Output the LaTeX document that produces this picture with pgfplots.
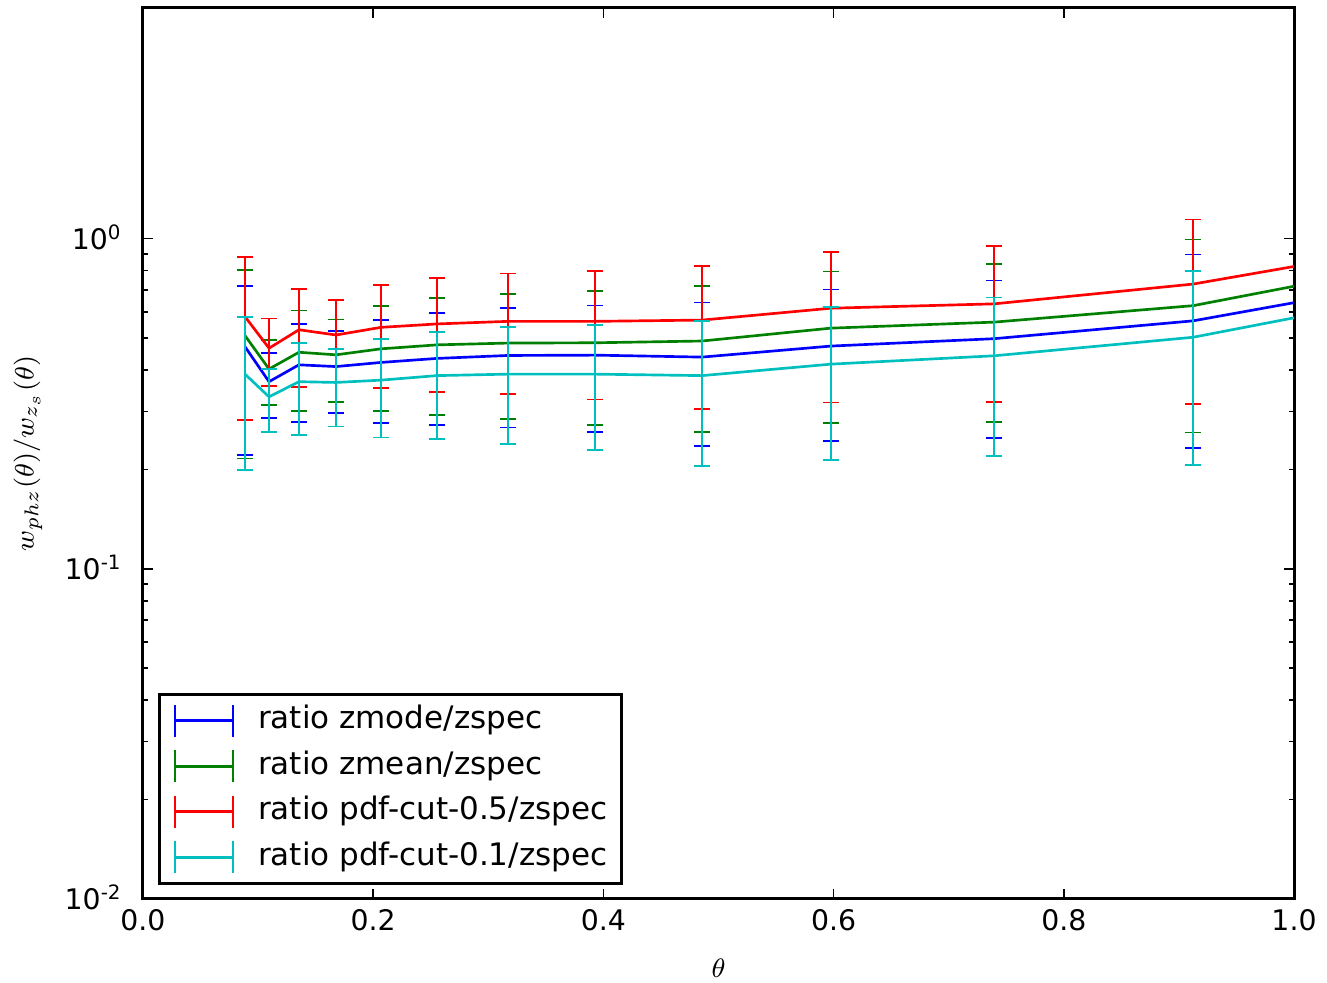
\documentclass[border=0pt]{standalone}
\usepackage[no-math]{fontspec}
\setmainfont{DejaVu Sans}
\usepackage{pgfplots}
\usepackage{pgfplotstable}
\pgfplotsset{compat=1.18}
\definecolor{mblue}{RGB}{0,0,255}
\definecolor{mgreen}{RGB}{0,128,0}
\definecolor{mred}{RGB}{255,0,0}
\definecolor{mcyan}{RGB}{0,191,191}

\pgfplotstableread{
x y e
0.0886 0.471 0.250
0.1095 0.369 0.083
0.1355 0.415 0.136
0.1677 0.410 0.114
0.2068 0.422 0.145
0.2554 0.434 0.162
0.3170 0.443 0.175
0.3927 0.444 0.184
0.4857 0.438 0.203
0.5977 0.473 0.229
0.7394 0.498 0.249
0.9123 0.564 0.332
1.1260 0.768 0.450
}\tblblue
\pgfplotstableread{
x y e
0.0886 0.509 0.293
0.1095 0.403 0.090
0.1355 0.453 0.153
0.1677 0.445 0.124
0.2068 0.464 0.163
0.2554 0.477 0.185
0.3170 0.483 0.199
0.3927 0.484 0.212
0.4857 0.490 0.230
0.5977 0.536 0.260
0.7394 0.559 0.281
0.9123 0.627 0.368
1.1260 0.872 0.500
}\tblgreen
\pgfplotstableread{
x y e
0.0886 0.581 0.298
0.1095 0.466 0.107
0.1355 0.530 0.174
0.1677 0.511 0.142
0.2068 0.539 0.186
0.2554 0.552 0.208
0.3170 0.562 0.223
0.3927 0.562 0.236
0.4857 0.567 0.262
0.5977 0.616 0.297
0.7394 0.635 0.314
0.9123 0.729 0.414
1.1260 0.983 0.550
}\tblred
\pgfplotstableread{
x y e
0.0886 0.389 0.190
0.1095 0.332 0.072
0.1355 0.369 0.115
0.1677 0.367 0.097
0.2068 0.373 0.123
0.2554 0.385 0.137
0.3170 0.389 0.150
0.3927 0.389 0.160
0.4857 0.385 0.180
0.5977 0.417 0.203
0.7394 0.442 0.222
0.9123 0.503 0.297
1.1260 0.700 0.400
}\tblcyan

\pgfplotsset{
  ebplot/.style={
    line width=0.8pt, mark=none,
    error bars/.cd, y dir=both, y explicit,
    error bar style={line width=0.8pt, solid},
    error mark options={line width=0.55pt, mark size=2.4pt, rotate=90}
  },
}

\begin{document}
\fontsize{8.5pt}{10pt}\selectfont
\begin{tikzpicture}
\begin{axis}[
  name=ax,
  scale only axis,
  width=345.3pt, height=267.3pt,
  xmin=0, xmax=1,
  ymode=log, ymin=0.01, ymax=5,
  xtick={0,0.2,0.4,0.6,0.8,1.0},
  xticklabels={0.0,0.2,0.4,0.6,0.8,1.0},
  ytick={0.01,0.1,1},
  yticklabels={10\smash{\textsuperscript{-2}},10\smash{\textsuperscript{-1}},10\smash{\textsuperscript{0}}},
  yticklabel style={xshift=-3.2pt},
  tick align=inside,
  major tick length=2.9pt,
  minor tick length=1.4pt,
  every tick/.style={black, line width=0.45pt},
  axis line style={line width=0.9pt},
  xlabel={$\theta$},
  ylabel={$w_{phz}(\theta)/w_{z_s}(\theta)$},
  x label style={at={(axis description cs:0.5,-0.0774)}, anchor=center},
  y label style={at={(axis description cs:-0.1,0.5)}, anchor=center, rotate=0},
  legend style={
    at={(axis description cs:0,0)}, anchor=south west,
    xshift=4.5pt, yshift=4.2pt,
    draw=black, line width=0.9pt,
    inner xsep=4.2pt, inner ysep=2.8pt,
    nodes={inner xsep=0pt, inner ysep=0pt, text height=7pt, text depth=2.2pt},
    row sep=3.5pt,
    /tikz/every odd column/.append style={column sep=7.2pt},
    font=\fontsize{9.3pt}{11pt}\selectfont,
  },
  legend cell align=left,
  legend image code/.code={
    \draw[#1, line width=0.8pt] (0pt,0pt)--(17.4pt,0pt);
    \draw[#1, line width=0.55pt] (0pt,-4.8pt)--(0pt,4.8pt) (17.4pt,-4.8pt)--(17.4pt,4.8pt);
  },
]
\addplot[color=mblue, ebplot] table[x=x, y=y, y error=e] {\tblblue};
\addlegendentry{ratio zmode/zspec}
\addplot[color=mgreen, ebplot] table[x=x, y=y, y error=e] {\tblgreen};
\addlegendentry{ratio zmean/zspec}
\addplot[color=mred, ebplot] table[x=x, y=y, y error=e] {\tblred};
\addlegendentry{ratio pdf-cut-0.5/zspec}
\addplot[color=mcyan, ebplot] table[x=x, y=y, y error=e] {\tblcyan};
\addlegendentry{ratio pdf-cut-0.1/zspec}
\end{axis}
\pgfresetboundingbox
\path[use as bounding box] ([xshift=-42.9pt,yshift=-25.2pt]ax.south west) rectangle ([xshift=9.9pt,yshift=2.4pt]ax.north east);
\end{tikzpicture}
\end{document}
